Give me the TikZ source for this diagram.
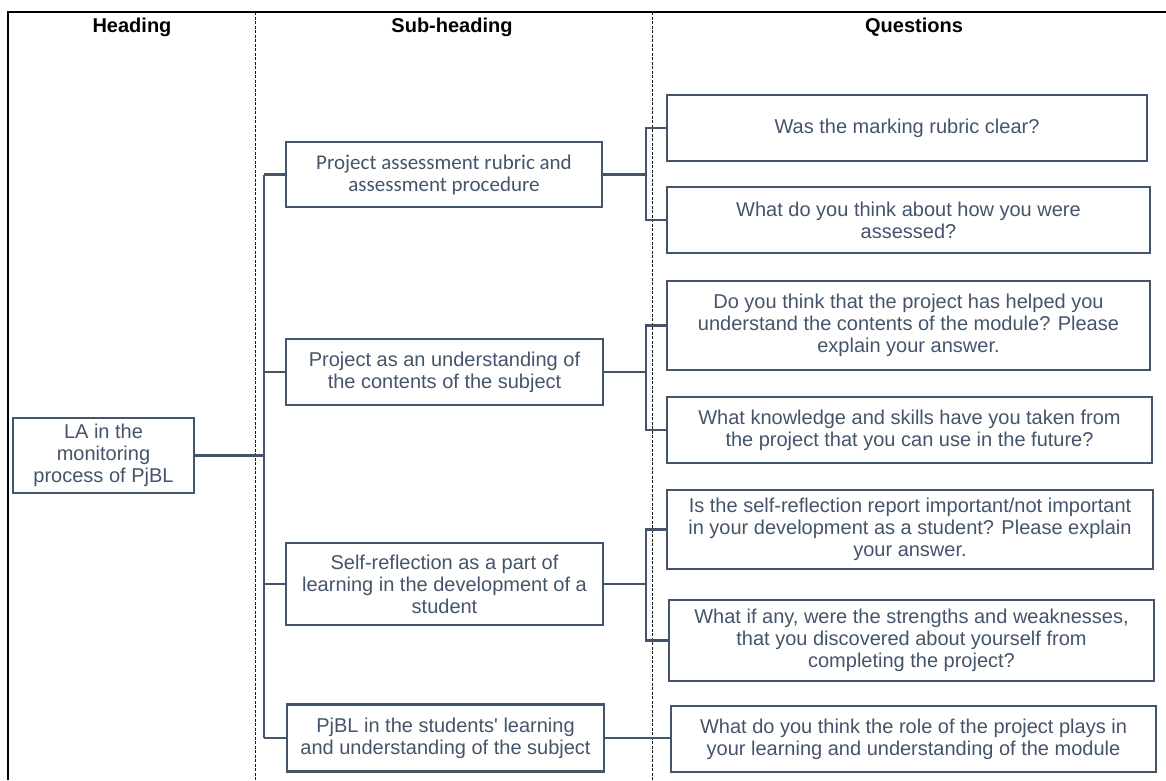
\documentclass[tikz,border=0pt]{standalone}
\usepackage{fontspec}
\setmainfont{Liberation Sans}
\newfontfamily\carlito{Carlito}
\definecolor{slate}{HTML}{44546A}
\begin{document}
\begin{tikzpicture}[x=1pt,y=-1pt,
  box/.style={draw=slate, line width=2.3pt, text=slate, align=center, inner sep=0pt,
              font=\fontsize{20}{22}\selectfont},
  link/.style={draw=slate, line width=2.3pt},
  guide/.style={draw=black!90, line width=1pt, dash pattern=on 3pt off 1.5pt},
  frame/.style={draw=black, line width=2pt},
  head/.style={font=\fontsize{20}{24}\selectfont\bfseries, text=black, anchor=base}]
\useasboundingbox (0,0) rectangle (1166,780);

% table frame and column separators
\draw[frame] (8,780) -- (8,12) -- (1166,12);
\draw[guide] (255,12) -- (255,780);
\draw[guide] (652,12) -- (652,780);

% column headings
\node[head] (h1) at (132,32) {Heading};
\node[head] (h2) at (452,32) {Sub-heading};
\node[head] (h3) at (914,32) {Questions};

% heading box
\node[box, minimum width=181pt, minimum height=75pt] (la) at (103.5,455.5)
  {LA in the\\monitoring\\process of PjBL};

% sub-heading boxes
\node[box, minimum width=316pt, minimum height=65pt, font=\carlito\fontsize{21}{22}\selectfont]
  (s1) at (444,174.5) {Project assessment rubric and\\assessment procedure};
\node[box, minimum width=317pt, minimum height=66pt] (s2) at (444.5,372)
  {Project as an understanding of\\the contents of the subject};
\node[box, minimum width=317pt, minimum height=82pt] (s3) at (444.5,584)
  {Self-reflection as a part of\\learning in the development of a\\student};
\node[box, minimum width=317pt, minimum height=67pt] (s4) at (445.5,738)
  {PjBL in the students\textquotesingle{} learning\\and understanding of the subject};

% question boxes
\node[box, minimum width=480pt, minimum height=66pt] (q1) at (907,128)
  {Was the marking rubric clear?};
\node[box, minimum width=483pt, minimum height=66pt] (q2) at (908.5,220)
  {What do you think about how you were\\assessed?};
\node[box, minimum width=483pt, minimum height=89pt] (q3) at (908.5,325.5)
  {Do you think that the project has helped you\\understand the contents of the module? Please\\explain your answer.};
\node[box, minimum width=485pt, minimum height=66pt] (q4) at (909.5,430)
  {What knowledge and skills have you taken from\\the project that you can use in the future?};
\node[box, minimum width=486pt, minimum height=79pt] (q5) at (910,529.5)
  {Is the self-reflection report important/not important\\in your development as a student? Please explain\\your answer.};
\node[box, minimum width=485pt, minimum height=81pt] (q6) at (911.5,640.5)
  {What if any, were the strengths and weaknesses,\\that you discovered about yourself from\\completing the project?};
\node[box, minimum width=485pt, minimum height=66pt] (q7) at (913.5,739)
  {What do you think the role of the project plays in\\your learning and understanding of the module};

% trunk from the heading to the sub-headings
\coordinate (tx) at (264,0);
\draw[link] (la.east) -- (la.east -| tx);
\draw[link] (s1.west -| tx) -- (s4.west -| tx);
\foreach \s in {s1,s2,s3,s4} \draw[link] (\s.west -| tx) -- (\s.west);

% branches from the sub-headings to the questions
\coordinate (bx) at (646,0);
\foreach \s/\a/\b in {s1/q1/q2, s2/q3/q4, s3/q5/q6} {
  \draw[link] (\s.east) -- (\s.east -| bx);
  \draw[link] (\a.west) -- (\a.west -| bx) -- (\b.west -| bx) -- (\b.west);
}
\draw[link] (s4.east) -- (s4.east -| q7.west);
\end{tikzpicture}
\end{document}
